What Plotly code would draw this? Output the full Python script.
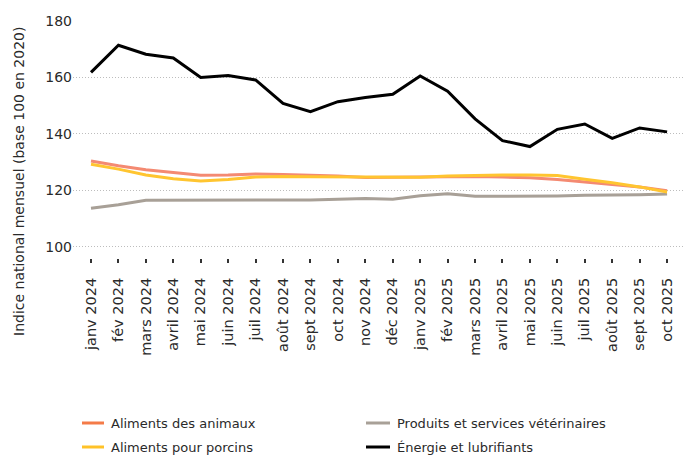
import plotly.graph_objects as go

months = ["janv 2024", "fév 2024", "mars 2024", "avril 2024", "mai 2024", "juin 2024",
          "juil 2024", "août 2024", "sept 2024", "oct 2024", "nov 2024", "déc 2024",
          "janv 2025", "fév 2025", "mars 2025", "avril 2025", "mai 2025", "juin 2025",
          "juil 2025", "août 2025", "sept 2025", "oct 2025"]

aliments_animaux = [130.4, 128.7, 127.3, 126.2, 125.3, 125.4, 125.8, 125.6, 125.3, 125.1, 124.5, 124.6,
                    124.7, 124.9, 124.9, 124.7, 124.4, 123.8, 123.0, 122.1, 121.2, 119.8]
aliments_porcins = [129.2, 127.5, 125.4, 124.1, 123.3, 123.8, 124.7, 124.9, 124.8, 124.7, 124.6, 124.6,
                    124.6, 125.1, 125.3, 125.4, 125.4, 125.2, 123.9, 122.7, 121.2, 119.4]
produits_veto = [113.6, 114.9, 116.5, 116.5, 116.4, 116.4, 116.5, 116.5, 116.6, 116.8, 117.1, 116.8,
                 118.1, 118.8, 117.9, 117.9, 117.9, 118.0, 118.2, 118.2, 118.4, 118.7]
energie = [161.8, 171.4, 168.2, 166.9, 160.0, 160.7, 159.1, 150.8, 147.9, 151.4, 152.9, 154.0,
           160.5, 155.1, 145.3, 137.6, 135.5, 141.6, 143.5, 138.4, 142.1, 140.7]

y_ticks = [100, 120, 140, 160, 180]

FONT = "DejaVu Sans"
TXT = "#2a2a2a"
W, H = 689, 455
ML, MR, MT, MB = 73, 6, 21, 197
PW, PH = W - ML - MR, H - MT - MB


def px_x(px):
    return (px - ML) / PW


def px_y(py):
    return (H - MB - py) / PH


fig = go.Figure()
series = [
    # name, values, line colour, legend colour, legend column, legend row
    ("Aliments des animaux", aliments_animaux, "#F48A72", "#F47B48", 0, 0),
    ("Produits et services vétérinaires", produits_veto, "#A8A097", "#A8A097", 1, 0),
    ("Aliments pour porcins", aliments_porcins, "#FFC530", "#FFC228", 0, 1),
    ("Énergie et lubrifiants", energie, "#000000", "#000000", 1, 1),
]
col_line_x = [(82, 104), (366, 390)]
col_text_x = [109, 395]
row_y = [423, 447]

shapes = []
annotations = []
for name, vals, col, lcol, c, r in series:
    fig.add_trace(go.Scatter(x=months, y=vals, name=name, mode="lines",
                             line=dict(color=col, width=3), showlegend=False))
    x0, x1 = col_line_x[c]
    shapes.append(dict(type="line", xref="paper", yref="paper",
                       x0=px_x(x0), x1=px_x(x1), y0=px_y(row_y[r]), y1=px_y(row_y[r]),
                       line=dict(color=lcol, width=3)))
    annotations.append(dict(text=name, xref="paper", yref="paper",
                            x=px_x(col_text_x[c]), y=px_y(row_y[r]),
                            xanchor="left", yanchor="middle", showarrow=False,
                            font=dict(size=13, family=FONT, color=TXT)))

annotations.append(dict(text="Indice national mensuel (base 100 en 2020)", textangle=-90,
                        xref="paper", yref="paper", x=px_x(19), y=px_y(182),
                        xanchor="center", yanchor="middle",
                        showarrow=False, font=dict(size=14, family=FONT, color=TXT)))

fig.update_layout(
    width=W, height=H,
    margin=dict(l=ML, r=MR, t=MT, b=MB, autoexpand=False),
    paper_bgcolor="white", plot_bgcolor="white",
    font=dict(family=FONT, color=TXT),
    showlegend=False,
    xaxis=dict(type="category", range=[-0.656, 21.58], showgrid=False, zeroline=False,
               showline=False, ticks="outside", ticklen=4, tickwidth=2, tickcolor="#333",
               tickangle=-90, tickfont=dict(size=14.5, family=FONT, color=TXT),
               ticklabelstandoff=9),
    yaxis=dict(range=[96, 180], tickvals=y_ticks, showgrid=True, gridcolor="#bdbdbd",
               griddash="1px,2px", gridwidth=1, zeroline=False, showline=False,
               tickfont=dict(size=14, family=FONT, color=TXT), ticks=""),
    shapes=shapes,
    annotations=annotations,
)

fig.write_html("out.html")
